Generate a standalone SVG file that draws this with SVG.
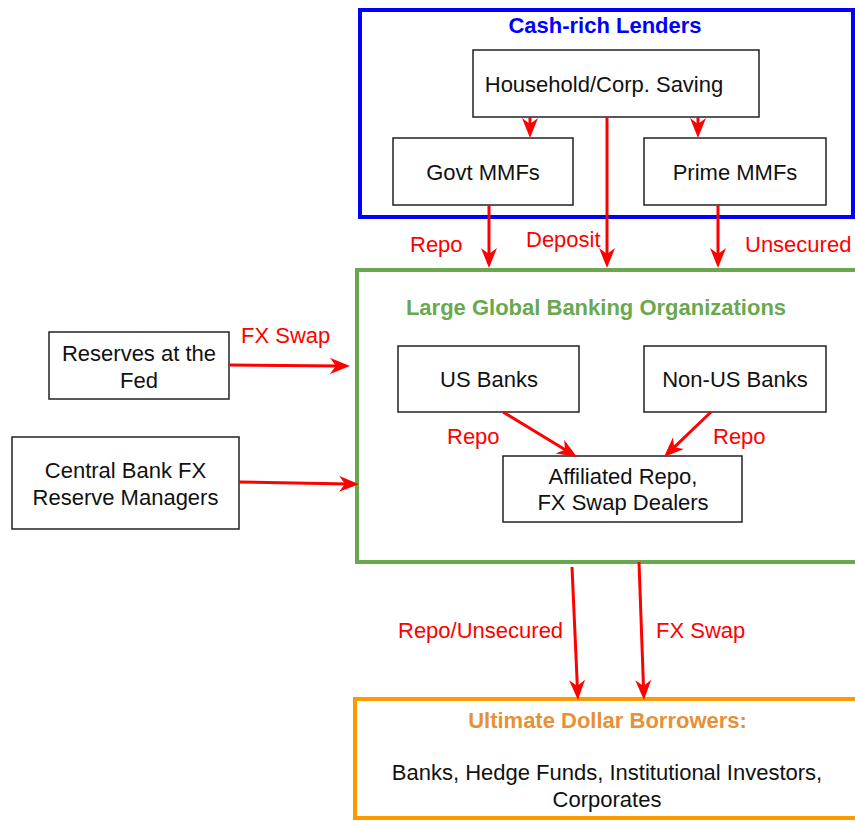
<svg xmlns="http://www.w3.org/2000/svg" width="855" height="821" viewBox="0 0 855 821">
<defs>
<marker id="ah" viewBox="0 0 20 16" markerWidth="20" markerHeight="16" refX="10" refY="8" orient="auto" markerUnits="userSpaceOnUse">
<path d="M0,0 L20,8 L0,16 L6,8 z" fill="#ff0000"/>
</marker>
</defs>
<style>
text{font-family:"Liberation Sans",Arial,sans-serif;font-size:22px;}
.box{fill:#ffffff;stroke:#222222;stroke-width:1.5;}
.t{fill:#111111;text-anchor:middle;}
.lbl{fill:#ff0000;}
.title{font-weight:bold;text-anchor:middle;}
.conn line{stroke:#ff0000;stroke-width:3;marker-end:url(#ah);}
</style>
<rect width="855" height="821" fill="#ffffff"/>

<g id="cash-rich-lenders">
<rect x="360" y="10" width="493" height="207" fill="#ffffff" stroke="#0000ff" stroke-width="4"/>
<text class="title" x="605" y="33" fill="#0000ff">Cash-rich Lenders</text>
</g>
<g id="household">
<rect class="box" x="473" y="50" width="286" height="67"/>
<text class="t" x="604" y="92">Household/Corp. Saving</text>
</g>
<g id="govt-mmfs">
<rect class="box" x="393" y="138" width="180" height="67"/>
<text class="t" x="483" y="180">Govt MMFs</text>
</g>
<g id="prime-mmfs">
<rect class="box" x="644" y="138" width="182" height="67"/>
<text class="t" x="735" y="180">Prime MMFs</text>
</g>

<g id="large-global-banks">
<rect x="357" y="270" width="520" height="292" fill="#ffffff" stroke="#6aa84f" stroke-width="4"/>
<text class="title" x="596" y="315" fill="#6aa84f">Large Global Banking Organizations</text>
</g>
<g id="us-banks">
<rect class="box" x="398" y="346" width="181" height="66"/>
<text class="t" x="489" y="387">US Banks</text>
</g>
<g id="non-us-banks">
<rect class="box" x="644" y="346" width="182" height="66"/>
<text class="t" x="735" y="387">Non-US Banks</text>
</g>
<g id="affiliated">
<rect class="box" x="503" y="456" width="239" height="66"/>
<text class="t" x="623" y="484">Affiliated Repo,</text>
<text class="t" x="623" y="510">FX Swap Dealers</text>
</g>

<g id="reserves-fed">
<rect class="box" x="49" y="332" width="180" height="67"/>
<text class="t" x="139" y="361">Reserves at the</text>
<text class="t" x="139" y="388">Fed</text>
</g>
<g id="central-bank">
<rect class="box" x="12" y="437" width="227" height="92"/>
<text class="t" x="125.5" y="478">Central Bank FX</text>
<text class="t" x="125.5" y="505">Reserve Managers</text>
</g>

<g id="ultimate-borrowers">
<rect x="355" y="699" width="520" height="119" fill="#ffffff" stroke="#ff9900" stroke-width="4"/>
<text class="title" x="607.5" y="728" fill="#e69138">Ultimate Dollar Borrowers:</text>
<text class="t" x="607" y="780">Banks, Hedge Funds, Institutional Investors,</text>
<text class="t" x="607" y="807">Corporates</text>
</g>

<g id="connectors" class="conn">
<line x1="530" y1="117" x2="530" y2="128"/>
<line x1="698" y1="117" x2="698" y2="128"/>
<line x1="607" y1="117" x2="607" y2="258"/>
<line x1="489" y1="205" x2="489" y2="258"/>
<line x1="718" y1="205" x2="718" y2="258"/>
<line x1="229" y1="365" x2="340" y2="366"/>
<line x1="239" y1="482" x2="349" y2="484"/>
<line x1="503" y1="412" x2="568.5" y2="451.8"/>
<line x1="711" y1="412" x2="671.2" y2="450.1"/>
<line x1="572" y1="567" x2="577.5" y2="690"/>
<line x1="639" y1="562" x2="643.6" y2="690"/>
</g>

<g id="connector-labels">
<text class="lbl" x="410" y="252">Repo</text>
<text class="lbl" x="526" y="247">Deposit</text>
<text class="lbl" x="745" y="252">Unsecured</text>
<text class="lbl" x="241" y="343">FX Swap</text>
<text class="lbl" x="447" y="444">Repo</text>
<text class="lbl" x="713" y="444">Repo</text>
<text class="lbl" x="398" y="638">Repo/Unsecured</text>
<text class="lbl" x="656" y="638">FX Swap</text>
</g>
</svg>
